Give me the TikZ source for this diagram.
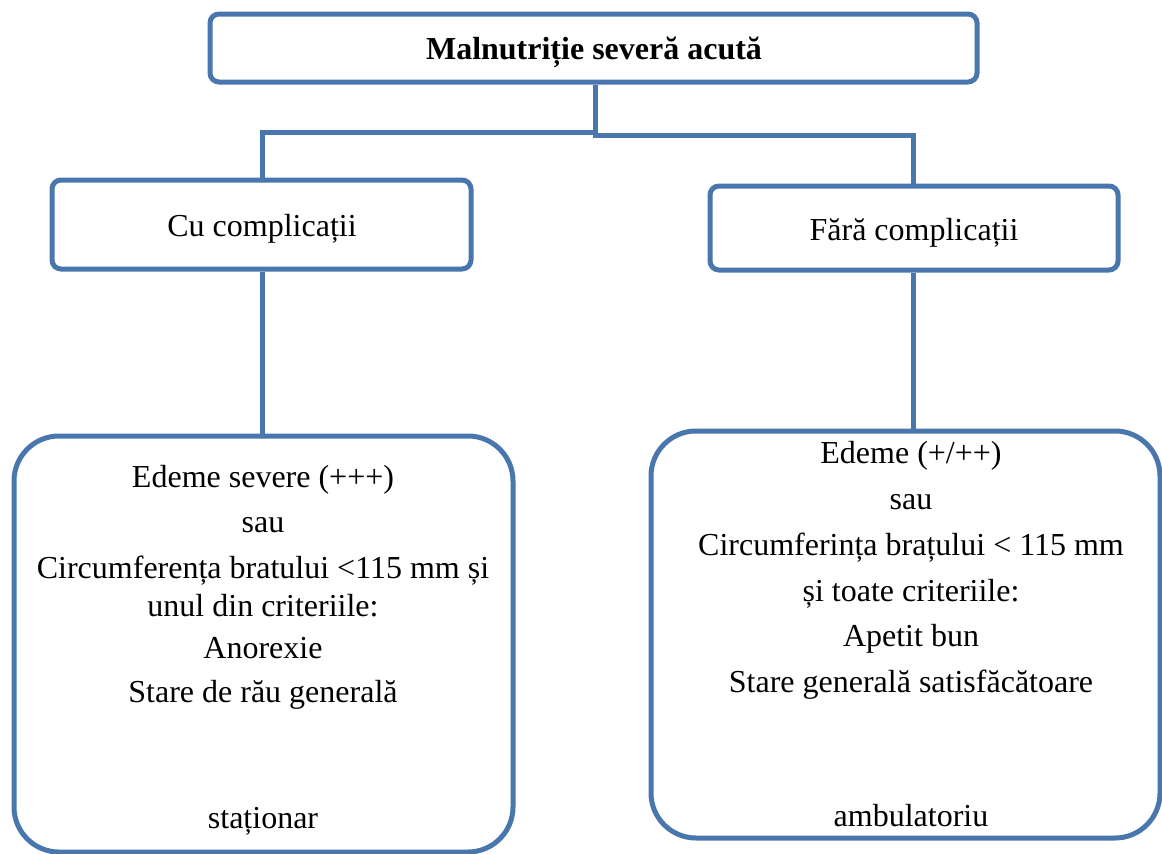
\documentclass[tikz,border=0pt]{standalone}
\usepackage{fontspec}
\setmainfont{Liberation Serif}
\definecolor{boxblue}{HTML}{4A76AE}
\begin{document}
\begin{tikzpicture}[x=1pt,y=-1pt,
  box/.style={draw=boxblue,line width=5pt,rounded corners=9pt,inner sep=0pt,fill=white},
  bigbox/.style={draw=boxblue,line width=5pt,rounded corners=45pt,inner sep=0pt,fill=white},
  conn/.style={draw=boxblue,line width=5pt},
  txt/.style={font=\fontsize{32}{37}\selectfont,inner sep=0pt,anchor=base}]
\useasboundingbox (0,0) rectangle (1162,854);
\fill[white] (0,0) rectangle (1162,854);
% connectors (drawn first, boxes on top)
\coordinate (j) at (595,132);
\coordinate (jl) at (262,132);
\coordinate (jr0) at (595,135);
\coordinate (jr) at (913,135);
\node[box,minimum width=767pt,minimum height=68pt] (top) at (593.5,48) {};
\node[box,minimum width=419pt,minimum height=89pt] (cu) at (261.5,224.5) {};
\node[box,minimum width=408pt,minimum height=84pt] (fara) at (914,228) {};
\node[bigbox,minimum width=499pt,minimum height=416pt] (bl) at (263.5,644) {};
\node[bigbox,minimum width=509pt,minimum height=407pt] (br) at (905.5,634.5) {};
\draw[conn] (top.south -| j) -- (j) -- (jl) -- (cu.north -| jl);
\draw[conn] (j) -- (jr0) -- (jr) -- (fara.north -| jr);
\draw[conn] (cu.south -| jl) -- (bl.north -| jl);
\draw[conn] (fara.south -| jr) -- (br.north -| jr);
% texts (y = baseline)
\node[txt,font=\fontsize{32}{37}\selectfont\bfseries] (t0) at (594,59) {Malnutriție severă acută};
\node[txt] (t1) at (262,236) {Cu complicații};
\node[txt] (t2) at (914,240) {Fără complicații};
\node[txt] (l1) at (263,487) {Edeme severe (+++)};
\node[txt] (l2) at (263,532) {sau};
\node[txt] (l3) at (263,578) {Circumferența bratului <115 mm și};
\node[txt] (l4) at (263,616) {unul din criteriile:};
\node[txt] (l5) at (263,658) {Anorexie};
\node[txt] (l6) at (263,702) {Stare de rău generală};
\node[txt] (l7) at (263,828) {staționar};
\node[txt] (r1) at (911,463) {Edeme (+/++)};
\node[txt] (r2) at (911,509) {sau};
\node[txt] (r3) at (911,555) {Circumferința brațului < 115 mm};
\node[txt] (r4) at (911,601) {și toate criteriile:};
\node[txt] (r5) at (911,646) {Apetit bun};
\node[txt] (r6) at (911,692) {Stare generală satisfăcătoare};
\node[txt] (r7) at (911,826) {ambulatoriu};
\end{tikzpicture}
\end{document}
